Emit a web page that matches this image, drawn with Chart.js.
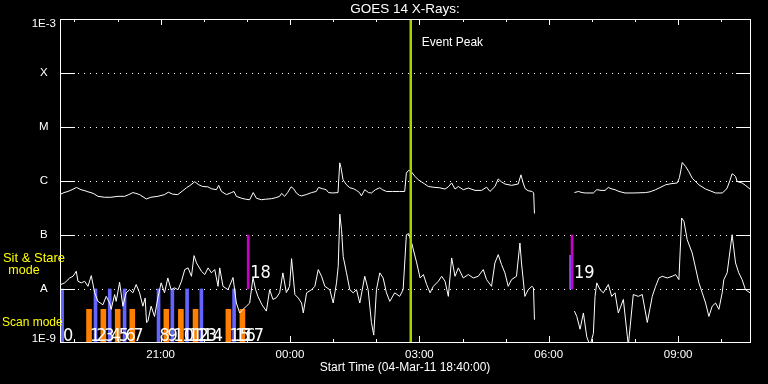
<!DOCTYPE html>
<html><head><meta charset="utf-8">
<script src="https://cdn.jsdelivr.net/npm/chart.js@4.4.1/dist/chart.umd.min.js"></script>
<style>html,body{margin:0;padding:0;background:#000;}canvas{display:block;background:#000;}</style>
</head><body>
<canvas id="c" width="768" height="384"></canvas>
<script>
// ---- text ----
const chartTitle = 'GOES 14 X-Rays:';
const startLabel = 'Start Time (04-Mar-11 18:40:00)';
const eventLabel = 'Event Peak';
const modeLabels = ['Sit & Stare', 'mode', 'Scan mode'];

// ---- axes (x = minutes after 18:40) ----
const yTickValues = [1e-9, 1e-8, 1e-7, 1e-6, 1e-5, 1e-4, 1e-3];
const yTickLabels = ['1E-9', 'A', 'B', 'C', 'M', 'X', '1E-3'];
const xTickValues = [140, 320, 500, 680, 860];
const xTickLabels = ['21:00', '00:00', '03:00', '06:00', '09:00'];
const hourTickValues = [20, 80, 140, 200, 260, 320, 380, 440, 500, 560, 620, 680, 740, 800, 860, 920];

// ---- long channel (1-8 A) ----
const longTimes = [1,5.6,11.1,16.7,22.9,29.2,34.7,38.9,43.1,47.2,
52.8,62.1,70.8,80.6,89.9,95.8,101.4,105.6,110.7,120.1,
126.4,136.1,145.4,150.7,156.9,163.9,170.8,176,180.6,187.5,
193.1,198.6,205.6,210.7,217.6,220.8,224.6,231.5,238.5,242.1,
245.4,252.4,258.3,263.9,268.8,273.2,280.1,286.1,294,300,
305.6,308.3,312.5,316.7,321.5,325,328.8,333.3,336.1,342.6,
350,356.5,359.7,365.3,370.4,373.6,379.6,386.8,389.2,391,
393.8,398.6,403.2,408.3,412.5,416.7,419.4,424,429.2,433.3,
438.9,444.9,448.6,454.2,462.5,472.2,479.6,481.9,485.1,488.9,
494,498.6,503.2,506.9,512.5,521.8,527.8,535.7,540.3,544.9,
549.6,554.2,561.1,568.1,577.4,586.5,593.5,598.2,605.1,609.7,
613.9,619,628.2,637.5,641.3,644.4,647.2,651.4,656.9,659,
660.1,690,715.7,721.3,726.4,731.3,742.1,746.8,752.8,758.3,
762.9,766.7,772.2,777.8,786.1,798.6,814.6,820.8,828.7,836.1,
842.6,850,858.8,861.8,863.9,865.7,870.4,875,879.6,888.9,
898.2,905.6,912.1,921.3,925,928.2,931.9,935.1,937.5,939.9,
942.1,949,954.2,960];
const longFlux = [5.7e-7,6.1e-7,6.4e-7,6.9e-7,7.6e-7,6.9e-7,6.6e-7,6.3e-7,6.1e-7,5.8e-7,
5.2e-7,5.0e-7,5.0e-7,5.2e-7,5.2e-7,5.6e-7,6.1e-7,5.9e-7,5.6e-7,4.65e-7,
5.0e-7,5.2e-7,5.6e-7,6.2e-7,5.7e-7,5.6e-7,6.6e-7,7.5e-7,8.2e-7,9.7e-7,
8.5e-7,7.9e-7,7.8e-7,7.2e-7,6.9e-7,8.3e-7,6.4e-7,5.6e-7,6.1e-7,6.4e-7,
5.2e-7,4.8e-7,4.6e-7,4.5e-7,6.1e-7,4.8e-7,4.5e-7,4.6e-7,4.7e-7,4.9e-7,
5.2e-7,5.9e-7,5.2e-7,6.1e-7,7.8e-7,7.2e-7,6.0e-7,5.4e-7,5.3e-7,5.6e-7,
6.1e-7,6.4e-7,7.6e-7,7.2e-7,6.9e-7,6.1e-7,6.0e-7,6.1e-7,2.17e-6,1.76e-6,
1.05e-6,8.5e-7,7.5e-7,7.2e-7,6.7e-7,6.1e-7,5.3e-7,6.9e-7,6.1e-7,6.0e-7,
6.9e-7,7.5e-7,6.9e-7,6.4e-7,6.4e-7,6.4e-7,6.4e-7,1.40e-6,1.58e-6,1.48e-6,
1.21e-6,1.05e-6,9.6e-7,8.9e-7,7.9e-7,7.6e-7,7.5e-7,7.1e-7,7.8e-7,9.2e-7,
7.1e-7,7.9e-7,6.9e-7,7.4e-7,6.7e-7,6.7e-7,7.7e-7,6.4e-7,7.9e-7,1.09e-6,
9.7e-7,8.8e-7,8.3e-7,8.8e-7,1.30e-6,9.2e-7,7.2e-7,6.6e-7,6.4e-7,6.0e-7,
2.5e-7,null,6.1e-7,6.4e-7,6.1e-7,6.0e-7,6.0e-7,6.9e-7,6.7e-7,6.7e-7,
7.6e-7,7.2e-7,6.9e-7,6.4e-7,6.0e-7,6.0e-7,6.1e-7,6.3e-7,6.9e-7,7.7e-7,
8.5e-7,8.9e-7,9.2e-7,1.15e-6,1.61e-6,2.20e-6,1.86e-6,1.48e-6,1.13e-6,8.5e-7,
7.1e-7,6.5e-7,6.0e-7,6.0e-7,6.6e-7,7.4e-7,1.01e-6,1.36e-6,1.30e-6,1.21e-6,
9.8e-7,9.2e-7,8.2e-7,7.1e-7];

// ---- short channel (0.5-4 A) ----
const shortTimes = [1,6.5,13.5,18.1,22.6,25,29.6,34.3,38.9,43.5,
48.2,52.8,59.7,64.3,69,71.2,76,78.2,82.9,87.5,
92.1,96.8,101.4,106,110.7,115.3,118.5,120.4,122.2,126.8,
131.5,136.1,140.7,145.4,150,154.6,159.3,164.3,169,173.6,
178.2,182.9,186.5,189.9,196.8,201.4,206,210.7,215.3,219.9,
222.2,226.8,233.8,240.7,245.4,250,254.6,259.3,263.9,268.5,
272.2,275.4,281,287.1,291.7,296.3,301,305.6,310.1,314.9,
319.4,322.2,326.8,331.5,336.1,338.5,343.1,350,354.6,359.3,
363.9,368.5,375.4,380.1,384.7,387.1,389.3,391.7,394,398.6,
403.2,407.9,412.5,417.1,424,428.7,433.3,436.5,440.3,444.9,
449.6,454.2,458.8,465.7,472.6,477.4,481.9,485.1,489.3,496.3,
501,505.6,510.1,514.9,519.4,526.4,531,535.7,540.3,544.9,
549.6,554.2,561.1,568.1,575,581.9,588.9,593.5,600.4,605.1,
609.7,614.3,619,623.6,628.2,635.1,639.9,642.1,646.8,651.4,
656.5,658.8,660.1,690,715.7,719,723.6,728.2,732.9,737.5,
742.1,744.4,746.8,751.4,756,762.9,767.6,772.2,776.8,783.8,
790.7,797.6,804.6,810.1,817.1,824,828.7,833.3,837.9,844.9,
851.8,856.5,861.1,864.9,868.1,872.6,879.6,888.9,893.5,898.2,
902.8,907.4,912.1,916.7,921.3,923.6,928.2,935.1,939.9,944.4,
949,953.7,960];
const shortFlux = [1.21e-8,1.30e-8,1.60e-8,1.72e-8,2.13e-8,1.39e-8,1.30e-8,1.39e-8,1.12e-8,1.77e-8,
8.5e-9,5.9e-9,5.1e-9,7.3e-9,5.5e-9,4.2e-9,7.9e-9,5.9e-9,1.33e-8,4.8e-9,
8.5e-9,9.7e-9,8.5e-9,1.21e-8,8.5e-9,4.8e-9,6.8e-9,2.4e-9,2.5e-9,4.8e-9,
3.1e-9,6.8e-9,1.30e-8,8.5e-9,1.60e-8,9.7e-9,1.05e-8,9.7e-9,1.39e-8,2.29e-8,
2.46e-8,1.72e-8,4.15e-8,3.04e-8,2.13e-8,1.85e-8,2.46e-8,1.99e-8,2.29e-8,1.12e-8,
2.46e-8,1.12e-8,9.7e-9,1.63e-8,5.5e-9,3.6e-9,4.2e-9,4.8e-9,5.5e-9,1.63e-8,
9.7e-9,7.3e-9,5.1e-9,3.9e-9,9.7e-9,6.4e-9,6.9e-9,8.5e-9,1.99e-8,8.6e-9,
1.12e-8,3.65e-8,7.9e-9,6.8e-9,5.5e-9,3.6e-9,8.5e-9,9.7e-9,1.12e-8,2.29e-8,
1.72e-8,1.12e-8,9.7e-9,5.5e-9,1.30e-8,2.63e-8,2.43e-7,1.25e-7,4.0e-8,1.99e-8,
9.7e-9,8.5e-9,9.7e-9,5.5e-9,1.72e-8,9.7e-9,2.4e-9,1.4e-9,9.7e-9,1.99e-8,
1.60e-8,8.5e-9,5.9e-9,8.5e-9,7.3e-9,9.7e-9,1.01e-7,1.06e-7,7.1e-8,3.04e-8,
1.60e-8,1.85e-8,1.21e-8,8.5e-9,1.12e-8,1.39e-8,1.72e-8,1.39e-8,7.3e-9,3.76e-8,
1.72e-8,2.46e-8,1.60e-8,1.85e-8,1.60e-8,1.72e-8,2.29e-8,1.49e-8,1.12e-8,3.04e-8,
4.33e-8,2.83e-8,1.99e-8,1.12e-8,1.49e-8,1.72e-8,7.1e-8,3.04e-8,7.3e-9,9.7e-9,
1.12e-8,1.05e-8,2.7e-9,null,3.9e-9,3.1e-9,1.8e-9,3.6e-9,1.3e-9,9e-10,
1.5e-9,7.3e-9,1.30e-8,9.7e-9,8.5e-9,1.21e-8,7.3e-9,8.5e-9,3.6e-9,6.4e-9,
9e-10,7.9e-9,7.3e-9,7.9e-9,2.4e-9,7.3e-9,1.12e-8,1.60e-8,1.72e-8,1.60e-8,
1.72e-8,1.85e-8,1.49e-8,2.06e-7,1.79e-7,8.2e-8,4.65e-8,1.30e-8,8.5e-9,5.5e-9,
3.1e-9,4.8e-9,5.5e-9,4.2e-9,8.5e-9,1.49e-8,1.99e-8,1.01e-7,3.04e-8,1.99e-8,
1.49e-8,9.7e-9,8.5e-9];

// ---- events ----
const scanTimes = [2.9,40.4,49.4,60.3,69.2,80.3,89.8,100.6,137.1,148,156.3,168.2,176.8,188.6,196.7,234.3,242.2,253.8];
const scanChannel = ['b','o','b','o','b','o','b','o','b','o','b','o','b','o','b','o','b','o'];
const scanBlueRange = [1e-9, 1e-8];
const scanOrangeRange = [1e-9, 4.2e-9];
const stareTimes = [261.8, 712.4];
const stareLabels = ['18', '19'];
const stareRange = [1e-8, 1e-7];
const stareBlueTimes = [710.3];
const stareBlueRange = [1e-8, 4.2e-8];
const eventPeakTime = 488;

const FONT = '"Liberation Sans", Arial, sans-serif';
const NUMFONT = '"Liberation Sans Narrow", "DejaVu Sans Condensed", "Liberation Sans", sans-serif';
Chart.defaults.font.family = FONT;
Chart.defaults.color = '#ffffff';

const pts = (ts, vs) => ts.map((t, i) => ({x: t, y: vs[i]}));
const scanBars = ch => scanTimes.map((t, i) => scanChannel[i] === ch ? {x: t, y: (ch === 'b' ? scanBlueRange : scanOrangeRange)} : null).filter(Boolean);

const decor = {
  id: 'decor',
  beforeDatasetsDraw(chart) {
    const {ctx, chartArea: a, scales: {y}} = chart;
    ctx.save();
    ctx.strokeStyle = '#ffffff'; ctx.lineWidth = 1;
    ctx.setLineDash([1, 5]);
    yTickValues.slice(1, -1).forEach(v => {
      const py = Math.round(y.getPixelForValue(v)) + 0.5;
      ctx.beginPath(); ctx.moveTo(a.left + 18, py); ctx.lineTo(a.right - 16, py); ctx.stroke();
    });
    ctx.restore();
  },
  afterDatasetsDraw(chart) {
    const {ctx, chartArea: a, scales: {x, y}} = chart;
    ctx.save();
    ctx.strokeStyle = '#ffffff'; ctx.lineWidth = 1;
    // frame
    ctx.strokeRect(a.left + 0.5, a.top + 0.5, a.right - a.left, a.bottom - a.top - 1);
    // y ticks
    yTickValues.slice(1, -1).forEach(v => {
      const py = Math.round(y.getPixelForValue(v)) + 0.5;
      ctx.beginPath();
      ctx.moveTo(a.left, py); ctx.lineTo(a.left + 15, py);
      ctx.moveTo(a.right - 14, py); ctx.lineTo(a.right + 1, py);
      ctx.stroke();
    });
    // x ticks (top & bottom, inward)
    hourTickValues.forEach(v => {
      const px = Math.round(x.getPixelForValue(v)) + 0.5;
      const len = xTickValues.includes(v) ? 6 : 3;
      ctx.beginPath();
      ctx.moveTo(px, a.bottom - 1); ctx.lineTo(px, a.bottom - 1 - len);
      ctx.moveTo(px, a.top); ctx.lineTo(px, a.top + len);
      ctx.stroke();
    });
    // scan labels
    ctx.fillStyle = '#ffffff';
    ctx.font = '18px ' + NUMFONT;
    ctx.textAlign = 'left'; ctx.textBaseline = 'alphabetic';
    scanTimes.forEach((t, i) => ctx.fillText(String(i), x.getPixelForValue(t) + 1, a.bottom - 2));
    const aPix = y.getPixelForValue(1e-8);
    stareTimes.forEach((t, i) => ctx.fillText(stareLabels[i], x.getPixelForValue(t) + 2, aPix - 11));
    // event peak label
    ctx.font = '12px ' + FONT;
    ctx.textBaseline = 'middle';
    ctx.fillText(eventLabel, x.getPixelForValue(eventPeakTime) + 11, a.top + 23.5);
    // mode labels
    ctx.fillStyle = '#ffff00';
    ctx.textAlign = 'center';
    ctx.font = '13px ' + FONT;
    ctx.fillText(modeLabels[0], 34, aPix - 31);
    ctx.font = '12.5px ' + FONT;
    ctx.fillText(modeLabels[1], 24, aPix - 18);
    ctx.font = '12px ' + FONT;
    ctx.textAlign = 'left';
    ctx.fillText(modeLabels[2], 2, a.bottom - 20);
    ctx.restore();
  }
};

new Chart(document.getElementById('c'), {
  type: 'line',
  data: {
    datasets: [
      {type: 'line', label: 'Event Peak', data: [{x: eventPeakTime, y: 1e-9}, {x: eventPeakTime, y: 1e-3}],
       borderColor: '#a4d400', borderWidth: 2.5, pointRadius: 0, order: 0},
      {type: 'line', label: '1.0-8.0 A', data: pts(longTimes, longFlux), borderColor: '#ffffff',
       borderWidth: 1, pointRadius: 0, tension: 0, spanGaps: false, order: 1},
      {type: 'line', label: '0.5-4.0 A', data: pts(shortTimes, shortFlux), borderColor: '#ffffff',
       borderWidth: 1, pointRadius: 0, tension: 0, spanGaps: false, order: 1},
      {type: 'bar', label: 'scan blue', data: scanBars('b'), backgroundColor: '#6464ff',
       barThickness: 3, grouped: false, order: 3},
      {type: 'bar', label: 'scan orange', data: scanBars('o'), backgroundColor: '#ff8000',
       barThickness: 5, grouped: false, order: 2},
      {type: 'bar', label: 'stare', data: stareTimes.map(t => ({x: t, y: stareRange})), backgroundColor: '#c800c8',
       barThickness: 2, grouped: false, order: 2},
      {type: 'bar', label: 'stare blue', data: stareBlueTimes.map(t => ({x: t, y: stareBlueRange})), backgroundColor: '#6464ff',
       barThickness: 2, grouped: false, order: 3}
    ]
  },
  options: {
    responsive: false,
    animation: false,
    events: [],
    layout: {padding: {left: 0, right: 18, top: 0, bottom: 0}},
    plugins: {
      legend: {display: false},
      tooltip: {enabled: false},
      title: {display: true, text: chartTitle, color: '#ffffff', fullSize: false,
              font: {size: 13.5, weight: 'normal', lineHeight: '13px'}, padding: {top: 3, bottom: 3}}
    },
    scales: {
      x: {
        type: 'linear', min: 0, max: 960, offset: false,
        grid: {display: false, drawTicks: false}, border: {display: false},
        afterBuildTicks: s => { s.ticks = xTickValues.map(v => ({value: v})); },
        afterFit: s => { s.height = 41; },
        ticks: {color: '#ffffff', font: {size: 11.5}, padding: 5, maxRotation: 0, autoSkip: false,
                callback: (v, i) => xTickLabels[i]},
        title: {display: true, text: startLabel, color: '#ffffff', font: {size: 12}, padding: {top: 0, bottom: 9}}
      },
      y: {
        type: 'logarithmic', min: 1e-9, max: 1e-3,
        grid: {display: false, drawTicks: false}, border: {display: false},
        afterBuildTicks: s => { s.ticks = yTickValues.map(v => ({value: v})); },
        afterFit: s => { s.width = 60; },
        ticks: {color: '#ffffff', font: {size: 11.5, lineHeight: 0.8}, padding: 4, crossAlign: 'center', autoSkip: false,
                callback: (v, i) => i === 0 ? [yTickLabels[0], ''] : (i === yTickLabels.length - 1 ? ['', yTickLabels[i]] : yTickLabels[i])}
      }
    }
  },
  plugins: [decor]
});
</script>
</body></html>
